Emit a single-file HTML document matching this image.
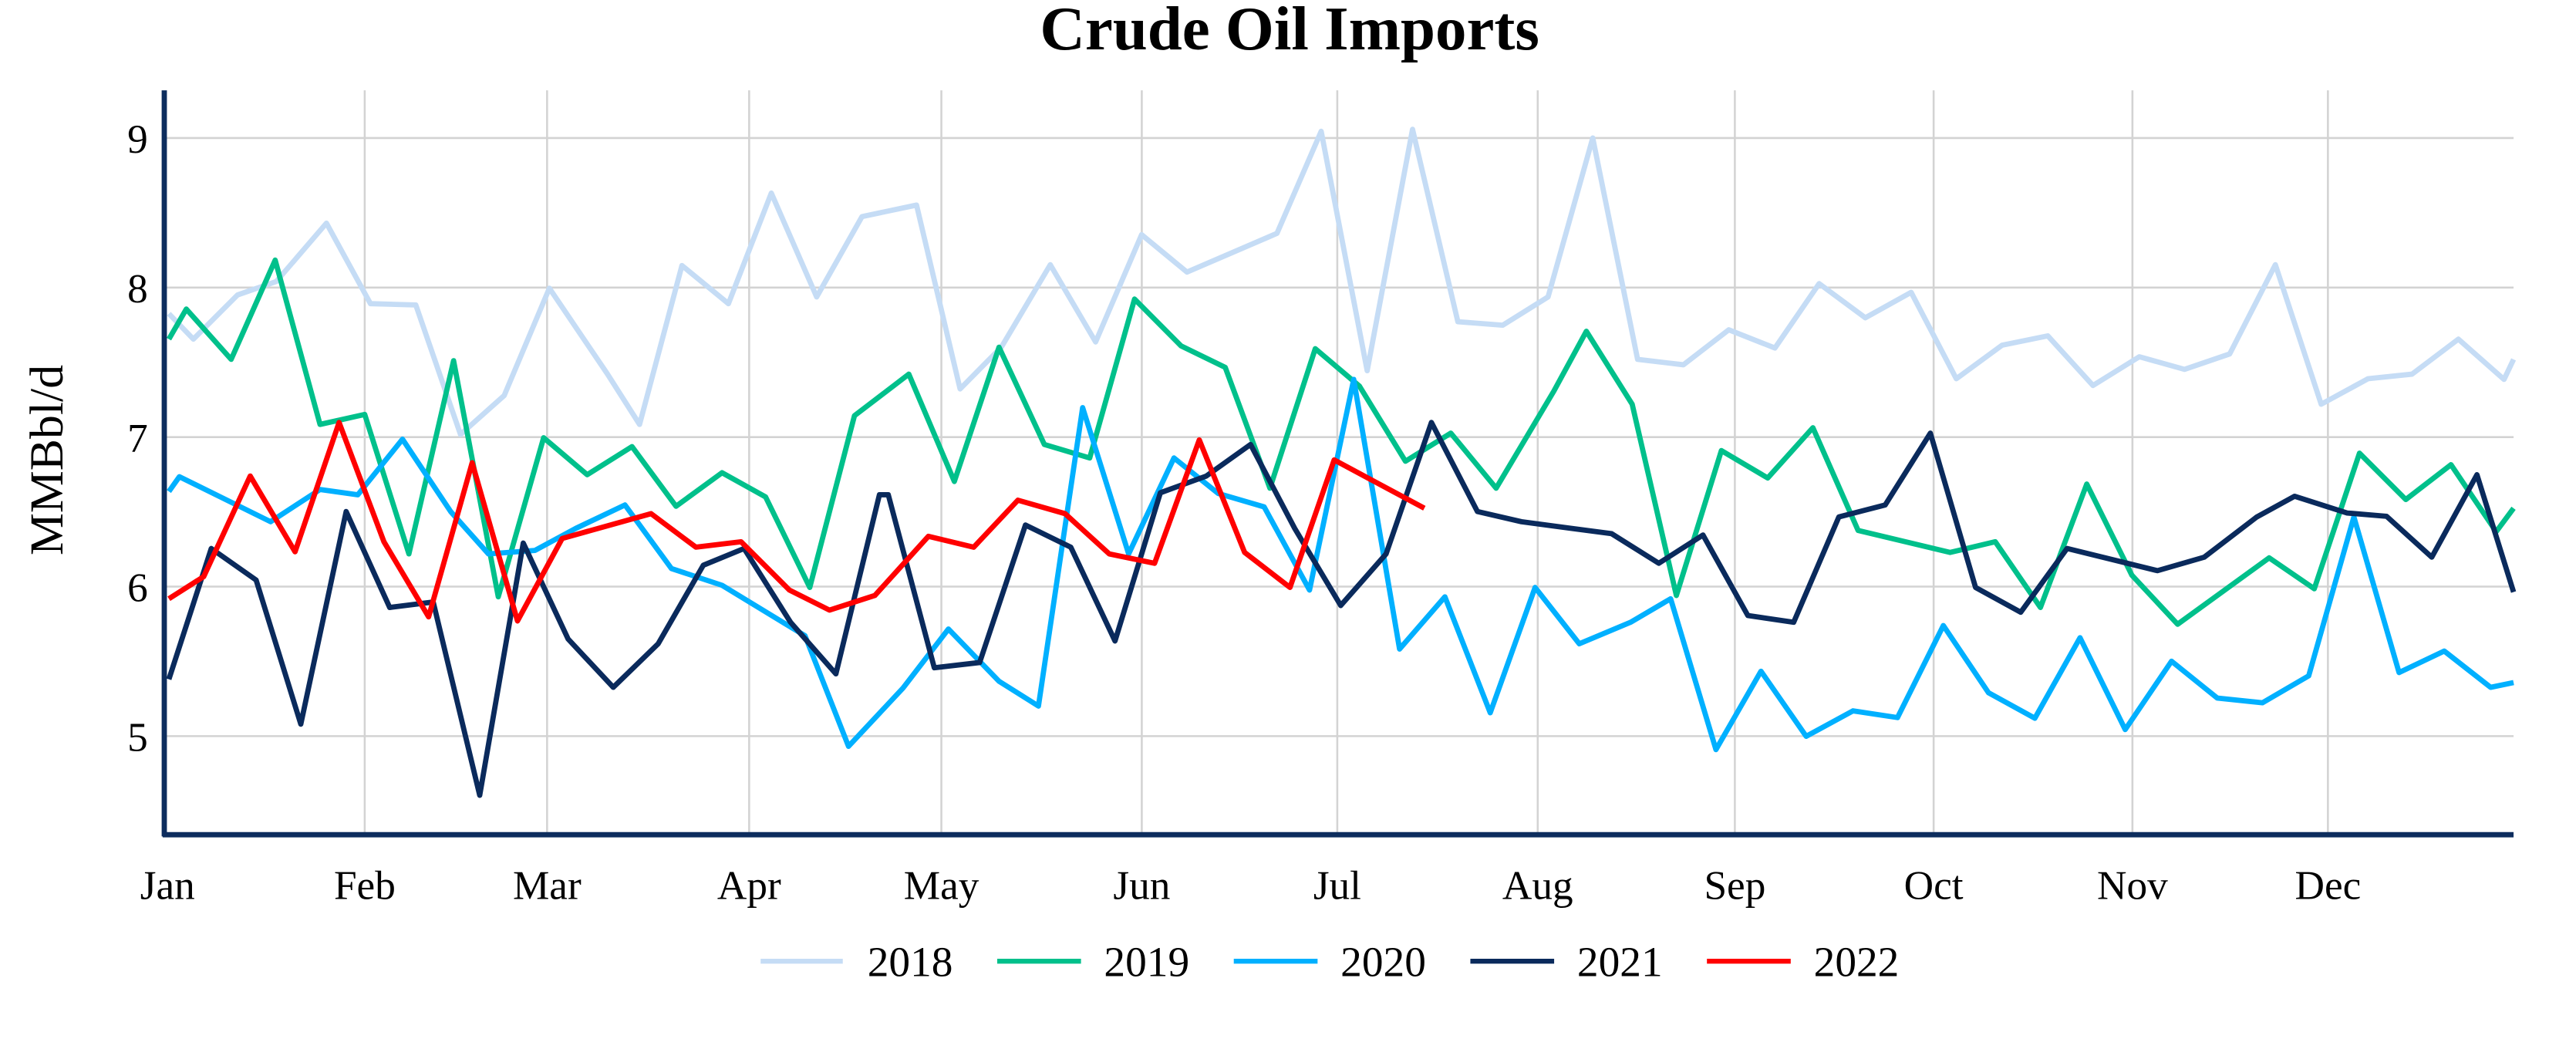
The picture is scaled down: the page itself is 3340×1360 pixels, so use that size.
<!DOCTYPE html>
<html><head><meta charset="utf-8"><style>
html,body{margin:0;padding:0;background:#fff;}
svg{display:block;}
text{font-family:"Liberation Serif",serif;fill:#000;}
</style></head><body>
<svg id="s" width="3340" height="1360" viewBox="0 0 1568 638.4" preserveAspectRatio="none" xmlns="http://www.w3.org/2000/svg">
<rect width="1568" height="640" fill="#fff"/>
<g stroke="#d3d3d3" stroke-width="1.2">
<line x1="100" x2="1530" y1="84" y2="84"/><line x1="100" x2="1530" y1="175" y2="175"/><line x1="100" x2="1530" y1="266" y2="266"/><line x1="100" x2="1530" y1="357" y2="357"/><line x1="100" x2="1530" y1="448" y2="448"/>
<line x1="222" x2="222" y1="55" y2="508"/><line x1="333" x2="333" y1="55" y2="508"/><line x1="456" x2="456" y1="55" y2="508"/><line x1="573" x2="573" y1="55" y2="508"/><line x1="695" x2="695" y1="55" y2="508"/><line x1="814" x2="814" y1="55" y2="508"/><line x1="936" x2="936" y1="55" y2="508"/><line x1="1056" x2="1056" y1="55" y2="508"/><line x1="1177" x2="1177" y1="55" y2="508"/><line x1="1298" x2="1298" y1="55" y2="508"/><line x1="1417" x2="1417" y1="55" y2="508"/>
</g>
<g id="series" fill="none" stroke-width="3.2" stroke-linejoin="round"></g>
<g stroke="#0d2d5e" stroke-width="3.2"><line x1="100" x2="100" y1="55" y2="509"/><line x1="99" x2="1530" y1="508" y2="508"/></g>
<text x="785" y="30" font-size="38" font-weight="bold" text-anchor="middle">Crude Oil Imports</text>
<g font-size="25" text-anchor="end"><text x="90" y="93">9</text><text x="90" y="184">8</text><text x="90" y="275">7</text><text x="90" y="366">6</text><text x="90" y="457">5</text></g>
<text transform="translate(38,280) rotate(-90)" font-size="29" text-anchor="middle">MMBbl/d</text>
<g font-size="25" text-anchor="middle"><text x="102" y="547">Jan</text><text x="222" y="547">Feb</text><text x="333" y="547">Mar</text><text x="456" y="547">Apr</text><text x="573" y="547">May</text><text x="695" y="547">Jun</text><text x="814" y="547">Jul</text><text x="936" y="547">Aug</text><text x="1056" y="547">Sep</text><text x="1177" y="547">Oct</text><text x="1298" y="547">Nov</text><text x="1417" y="547">Dec</text></g>
<g stroke-width="3"><line x1="463" x2="513" y1="585" y2="585" stroke="#c5dcf5"/><line x1="607" x2="658" y1="585" y2="585" stroke="#00c08b"/><line x1="751" x2="802" y1="585" y2="585" stroke="#00b0ff"/><line x1="895" x2="946" y1="585" y2="585" stroke="#0a2a5c"/><line x1="1039" x2="1090" y1="585" y2="585" stroke="#ff0000"/></g>
<g font-size="26"><text x="528" y="594">2018</text><text x="672" y="594">2019</text><text x="816" y="594">2020</text><text x="960" y="594">2021</text><text x="1104" y="594">2022</text></g>
</svg>
<script>
var Y=function(zy){return 84+(zy-208)/2.45;};
var T1=function(zx){return 100+(zx-277)/2.828;};
var T3=function(zx){return 515.6+zx/2.789;};
var T2=function(zx){return 1030.6+zx/2.909;};
var D={
"#c5dcf5":[
[[285,470],[327,508],[403,442],[470,422],[556,335],[632,455],[710,457],[787,650],[862,592],[940,432],[1040,560],[1095,635],[1168,398],[1248,455],[1322,290],[1400,445],[1478,325],[1553,308]],
[[38,325],[118,308],[192,582],[262,520],[345,397],[422,512],[500,352],[577,408],[730,350],[805,198],[883,555],[960,195],[1037,482],[1113,487],[1190,445],[1266,208],[1342,538],[1420,546],[1496,493],[1568,520]],
[[0,538],[63,494],[145,521],[223,425],[305,476],[386,438],[466,567],[547,517],[628,503],[708,577],[790,534],[870,553],[950,530],[1031,397],[1112,605],[1195,567],[1273,560],[1355,508],[1436,568],[1458,538]]],
"#00c08b":[
[[285,508],[315,463],[392,538],[468,390],[545,635],[622,620],[698,828],[775,540],[852,892],[930,655],[1005,710],[1082,668],[1158,757],[1237,707],[1312,743],[1388,878],[1465,622],[1543,562]],
[[0,735],[28,622],[105,560],[182,720],[258,520],[335,665],[412,685],[488,448],[567,518],[642,550],[718,730],[795,522],[870,578],[948,690],[1025,648],[1102,730],[1200,585],[1255,496],[1333,605],[1408,890],[1487,675],[1565,717]],
[[0,808],[50,674],[132,715],[212,640],[292,793],[455,826],[535,810],[615,908],[697,724],[777,860],[858,933],[1020,834],[1100,880],[1180,678],[1262,747],[1342,695],[1422,795],[1458,760]]],
"#00b0ff":[
[[285,735],[303,713],[460,780],[545,732],[610,740],[687,657],[770,765],[835,828],[915,823],[985,790],[1070,755],[1150,850],[1237,875],[1380,950],[1455,1115]],
[[0,1040],[18,1115],[95,1028],[172,940],[258,1018],[325,1055],[400,610],[478,828],[555,685],[630,738],[708,758],[785,882],[860,568],[938,970],[1015,892],[1092,1065],[1168,878],[1243,962],[1330,930],[1398,895],[1475,1120],[1552,1003],[1568,1035]],
[[0,998],[40,1120],[120,1003],[200,1100],[283,1062],[362,1072],[443,935],[523,1035],[605,1073],[685,953],[765,1090],[847,988],[928,1043],[1008,1050],[1090,1010],[1170,773],[1250,1005],[1330,973],[1412,1027],[1458,1020]]],
"#0a2a5c":[
[[285,1015],[358,820],[435,867],[512,1082],[590,765],[665,908],[740,900],[820,1188],[895,812],[972,955],[1050,1027],[1127,962],[1205,845],[1275,820],[1355,930],[1433,1007],[1508,740]],
[[0,1005],[70,740],[148,998],[225,990],[303,785],[380,818],[455,958],[532,737],[610,712],[685,665],[760,790],[838,905],[915,828],[992,632],[1070,765],[1145,780],[1298,798],[1378,842],[1453,800],[1530,920],[1568,925]],
[[0,808],[16,800],[97,920],[178,930],[258,773],[340,755],[420,648],[500,878],[580,915],[662,820],[822,853],[905,833],[998,773],[1065,742],[1158,767],[1228,772],[1308,833],[1388,710],[1458,885]]],
"#ff0000":[
[[285,895],[345,862],[425,712],[502,825],[578,632],[655,810],[732,922],[807,692],[885,928],[962,805],[1115,768],[1192,818],[1270,810],[1353,882],[1422,912],[1500,890]],
[[0,908],[63,890],[138,802],[215,818],[290,748],[370,768],[445,828],[522,842],[598,658],[675,826],[752,878],[827,688],[980,760]],
[]]
};
var g=document.getElementById("series"),out="";
for(var c in D){
 var p=[],a=D[c];
 a[0].forEach(function(q){var x=T1(q[0]);if(x<540)p.push([x,Y(q[1])]);});
 a[1].forEach(function(q){var x=T3(q[0]);if(x>=540&&x<=1045)p.push([x,Y(q[1])]);});
 a[2].forEach(function(q){var x=T2(q[0]);if(x>1045)p.push([Math.min(x,1530),Y(q[1])]);});
 out+='<polyline stroke="'+c+'" points="'+p.map(function(q){return q[0].toFixed(1)+","+q[1].toFixed(1);}).join(" ")+'"/>';
}
g.innerHTML=out;
</script>
</body></html>
